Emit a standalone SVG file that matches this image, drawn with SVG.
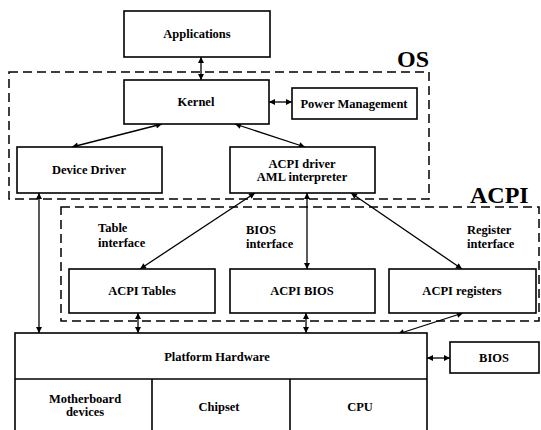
<svg xmlns="http://www.w3.org/2000/svg" width="541" height="430" viewBox="0 0 541 430">
<defs>
<style>
.box{fill:#fff;stroke:#000;stroke-width:1.6}
.grp{fill:none;stroke:#000;stroke-width:1.5;stroke-dasharray:9 5}
.t{font-family:"Liberation Serif","Times New Roman",serif;font-weight:bold;font-size:12.5px;fill:#000;text-anchor:middle}
.tl{font-family:"Liberation Serif","Times New Roman",serif;font-weight:bold;font-size:12.5px;fill:#000}
.big{font-family:"Liberation Serif","Times New Roman",serif;font-weight:bold;font-size:24px;fill:#000}
.c{fill:none;stroke:#000;stroke-width:1.3;marker-start:url(#ah);marker-end:url(#ah)}
</style>
<marker id="ah" viewBox="0 0 10 10" refX="10" refY="5" markerWidth="7" markerHeight="6" markerUnits="userSpaceOnUse" orient="auto-start-reverse">
<path d="M0,0 L10,5 L0,10 z" fill="#000"/>
</marker>
</defs>
<rect width="541" height="430" fill="#fff"/>

<g id="os-group">
<rect class="grp" x="9" y="72" width="420" height="127"/>
<text class="big" x="397" y="67">OS</text>
</g>
<g id="acpi-group">
<rect class="grp" x="61" y="207" width="478" height="114"/>
<text class="big" x="470" y="203">ACPI</text>
</g>

<g id="connectors">
<line class="c" x1="201" y1="57" x2="201" y2="80"/>
<line class="c" x1="269" y1="102" x2="292" y2="102"/>
<line class="c" x1="162" y1="124" x2="72" y2="147"/>
<line class="c" x1="235" y1="124" x2="305" y2="147"/>
<line class="c" x1="255" y1="193" x2="140" y2="269"/>
<line class="c" x1="307" y1="193" x2="307" y2="269"/>
<line class="c" x1="351" y1="193" x2="462" y2="269"/>
<line class="c" x1="39" y1="193" x2="39" y2="333"/>
<line class="c" x1="138" y1="313" x2="138" y2="333"/>
<line class="c" x1="306" y1="313" x2="306" y2="333"/>
<line class="c" x1="463" y1="313" x2="398" y2="334"/>
<line class="c" x1="427" y1="358" x2="450" y2="358"/>
</g>

<g id="applications">
<rect class="box" x="124" y="11" width="146" height="46"/>
<text class="t" x="197" y="38">Applications</text>
</g>
<g id="kernel">
<rect class="box" x="124" y="80" width="145" height="44"/>
<text class="t" x="196" y="106">Kernel</text>
</g>
<g id="power-management">
<rect class="box" x="292" y="88" width="125" height="31"/>
<text class="t" x="354" y="108">Power Management</text>
</g>
<g id="device-driver">
<rect class="box" x="17" y="147" width="145" height="46"/>
<text class="t" x="89" y="174">Device Driver</text>
</g>
<g id="acpi-driver">
<rect class="box" x="230" y="147" width="145" height="46"/>
<text class="t" x="302" y="168">ACPI driver</text>
<text class="t" x="302" y="181">AML interpreter</text>
</g>
<g id="interface-labels">
<text class="tl" x="98" y="232">Table</text>
<text class="tl" x="98" y="247">interface</text>
<text class="tl" x="246" y="234">BIOS</text>
<text class="tl" x="246" y="248">interface</text>
<text class="tl" x="467" y="234">Register</text>
<text class="tl" x="467" y="248">interface</text>
</g>
<g id="acpi-tables">
<rect class="box" x="69" y="269" width="146" height="44"/>
<text class="t" x="142" y="295">ACPI Tables</text>
</g>
<g id="acpi-bios">
<rect class="box" x="230" y="269" width="145" height="44"/>
<text class="t" x="302" y="295">ACPI BIOS</text>
</g>
<g id="acpi-registers">
<rect class="box" x="389" y="269" width="147" height="44"/>
<text class="t" x="462" y="295">ACPI registers</text>
</g>
<g id="platform-hardware">
<rect class="box" x="15" y="333" width="412" height="110"/>
<line x1="15" y1="379" x2="427" y2="379" stroke="#000" stroke-width="1.6"/>
<line x1="152" y1="379" x2="152" y2="430" stroke="#000" stroke-width="1.6"/>
<line x1="290" y1="379" x2="290" y2="430" stroke="#000" stroke-width="1.6"/>
<text class="t" x="217" y="361">Platform Hardware</text>
<text class="t" x="85" y="403">Motherboard</text>
<text class="t" x="85" y="416">devices</text>
<text class="t" x="219" y="411">Chipset</text>
<text class="t" x="360" y="411">CPU</text>
</g>
<g id="bios">
<rect class="box" x="450" y="342" width="89" height="31"/>
<text class="t" x="494" y="362">BIOS</text>
</g>
</svg>
